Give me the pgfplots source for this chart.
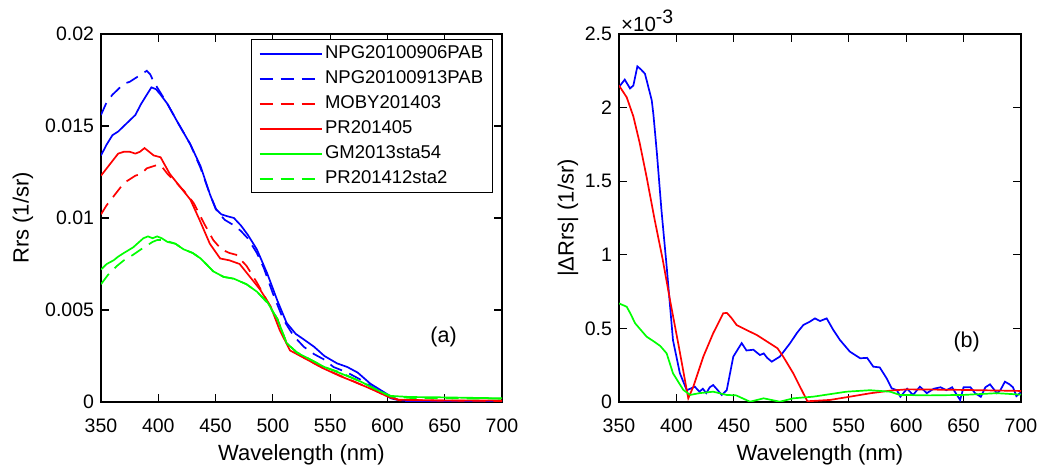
\documentclass[border=0pt]{standalone}
\usepackage{fontspec}
\setmainfont{Liberation Sans}
\usepackage{graphicx}
\usepackage{pgfplots}
\pgfplotsset{compat=1.18}
\definecolor{mblue}{rgb}{0,0,1}
\definecolor{mred}{rgb}{1,0,0}
\definecolor{mgreen}{rgb}{0,1,0}
\pgfplotsset{
  common/.style={
    scale only axis,
    width=401pt, height=368pt,
    xmin=350, xmax=700,
    xtick={350,400,...,700},
    axis line style={line width=1.1pt},
    every tick/.style={black, line width=1.1pt},
    major tick length=8pt,
    tick align=inside,
    /pgf/number format/assume math mode=true,
    tick label style={font=\fontsize{19.5}{21}\selectfont},
    xticklabel style={anchor=center, yshift=-24pt},
    yticklabel style={xshift=-3.5pt},
    xlabel={Wavelength (nm)},
    every axis x label/.style={at={(rel axis cs:0.5,0)}, anchor=center, yshift=-53pt, font=\fontsize{22}{24}\selectfont},
    every axis plot/.append style={line width=1.7pt},
    clip=true,
  },
  dashd/.style={dash pattern=on 13pt off 8pt},
}
\begin{document}
\begin{tikzpicture}
\useasboundingbox (0,0) rectangle (1050pt,470pt);
\begin{axis}[common,
  at={(101pt,68pt)}, anchor=south west,
  ymin=0, ymax=0.02,
  ytick={0,0.005,0.01,0.015,0.02},
  yticklabels={0,0.005,0.01,0.015,0.02},
  scaled y ticks=false,
  ylabel={Rrs (1/sr)},
  every axis y label/.style={at={(rel axis cs:0,0.5)}, rotate=90, anchor=center, yshift=78pt, font=\fontsize{22}{24}\selectfont},
  legend cell align=left,
  legend image code/.code={\draw[#1] (0pt,0pt) -- (62pt,0pt);},
  legend style={at={(rel axis cs:0.978,0.986)}, anchor=north east,
    draw=black, line width=1.1pt, font=\fontsize{18.5}{20}\selectfont,
    inner xsep=7pt, inner ysep=3.5pt, row sep=4pt,
    nodes={inner sep=2.5pt, text height=13pt, text depth=3pt}},
]
\addplot[mblue] coordinates {
(350,0.0134)(355,0.0140)(360,0.0145)(365,0.0147)(370,0.0150)(375,0.0153)(380,0.0156)(385,0.0162)(390,0.0167)(394,0.0171)(398,0.0170)(402,0.0167)(408,0.0162)(416,0.0153)(428,0.0140)(437,0.0128)(445,0.0113)(450,0.0105)(455,0.0102)(460,0.0101)(466,0.0100)(472,0.0096)(478,0.0091)(486,0.0083)(495,0.0070)(504,0.0055)(512,0.0043)(520,0.0037)(527,0.0034)(536,0.0030)(545,0.0025)(556,0.0021)(565,0.0019)(574,0.0016)(585,0.0010)(594,0.00065)(603,0.0003)(610,0.0001)(620,0.00005)(650,0.00003)(700,0.00002)};
\addlegendentry{NPG20100906PAB}
\addplot[mblue, dashd] coordinates {
(350,0.0156)(355,0.0163)(360,0.0167)(365,0.0170)(370,0.0173)(375,0.0174)(380,0.0176)(385,0.0178)(390,0.0180)(393,0.0178)(396,0.0174)(402,0.0168)(408,0.0162)(416,0.0153)(428,0.0140)(437,0.0127)(445,0.0113)(451,0.0104)(458,0.0099)(466,0.0096)(472,0.0093)(478,0.0089)(486,0.0081)(492,0.0073)(500,0.0059)(509,0.0045)(518,0.0036)(527,0.0030)(536,0.0026)(545,0.0023)(553,0.0019)(565,0.0016)(577,0.0012)(591,0.00065)(603,0.0002)(615,0.00002)(650,0.00001)(700,0.00001)};
\addlegendentry{NPG20100913PAB}
\addplot[mred, dashd] coordinates {
(350,0.0102)(355,0.0107)(360,0.0111)(365,0.0115)(370,0.0119)(375,0.0121)(380,0.0123)(385,0.0124)(390,0.0127)(395,0.0128)(400,0.0129)(403,0.0128)(408,0.0124)(416,0.0119)(425,0.0113)(431,0.0108)(440,0.0097)(448,0.0088)(455,0.0083)(462,0.0081)(468,0.0080)(477,0.0074)(486,0.0065)(495,0.0055)(504,0.0045)(512,0.0032)(520,0.0027)(530,0.0023)(545,0.0018)(560,0.0014)(575,0.0010)(590,0.0006)(600,0.0003)(610,0.0001)(650,0.00008)(700,0.00005)};
\addlegendentry{MOBY201403}
\addplot[mred] coordinates {
(350,0.0123)(355,0.0127)(360,0.0131)(365,0.0135)(370,0.0136)(375,0.0136)(380,0.0135)(384,0.0136)(388,0.0138)(392,0.0136)(396,0.0134)(402,0.0133)(410,0.0124)(419,0.0117)(428,0.0110)(436,0.0099)(445,0.0086)(454,0.0078)(462,0.0077)(471,0.0075)(480,0.0068)(489,0.0061)(498,0.0052)(506,0.0039)(515,0.0028)(524,0.0025)(533,0.0022)(545,0.0018)(559,0.0014)(571,0.0011)(588,0.00065)(600,0.0003)(610,0.00012)(650,0.00008)(700,0.00008)};
\addlegendentry{PR201405}
\addplot[mgreen] coordinates {
(350,0.0072)(355,0.0075)(361,0.0077)(365,0.0079)(370,0.0081)(378,0.0084)(387,0.0089)(391,0.0090)(395,0.0089)(399,0.0090)(403,0.0089)(408,0.0087)(415,0.0086)(422,0.0083)(430,0.0081)(437,0.0078)(448,0.0071)(457,0.0068)(466,0.0067)(477,0.0064)(486,0.0060)(495,0.00545)(504,0.0045)(512,0.0032)(521,0.00268)(533,0.0023)(545,0.0019)(559,0.00156)(577,0.0011)(594,0.00056)(603,0.00033)(620,0.00027)(650,0.00025)(700,0.0002)};
\addlegendentry{GM2013sta54}
\addplot[mgreen, dashd] coordinates {
(350,0.0064)(356,0.0069)(364,0.0074)(370,0.0077)(378,0.0080)(385,0.0083)(390,0.0085)(395,0.0087)(399,0.0088)(405,0.0088)(410,0.0087)(415,0.0086)(422,0.0083)(430,0.0081)(437,0.0078)(448,0.0071)(457,0.0068)(466,0.0067)(477,0.0064)(486,0.0060)(495,0.0054)(504,0.0045)(512,0.0032)(521,0.0027)(533,0.0023)(545,0.0019)(559,0.0016)(577,0.0011)(594,0.00055)(603,0.0003)(620,0.00022)(700,0.00018)};
\addlegendentry{PR201412sta2}
\node[font=\fontsize{21.5}{23}\selectfont] at (axis cs:649,0.00353) {(a)};
\end{axis}
\begin{axis}[common, name=ax2,
  at={(619pt,68pt)}, anchor=south west,
  width=402pt,
  ymin=0, ymax=2.5,
  ytick={0,0.5,1,1.5,2,2.5},
  ylabel={|ΔRrs| (1/sr)},
  every axis y label/.style={at={(rel axis cs:0,0.5)}, rotate=90, anchor=center, yshift=51pt, font=\fontsize{22}{24}\selectfont},
  title={\scalebox{2.05}{×10\raisebox{3.8pt}{\scalebox{0.95}{-3}}}},
  every axis title/.style={at={(rel axis cs:0,1)}, anchor=south west, inner sep=0pt, xshift=2pt, yshift=2.5pt},
]
\addplot[mblue] coordinates {
(350,2.14)(355,2.19)(359.6,2.13)(362.5,2.15)(366,2.28)(369,2.26)(372.6,2.23)(378.5,2.05)(380,1.95)(383,1.69)(387,1.30)(391.5,0.92)(397,0.42)(403,0.195)(409,0.08)(412,0.09)(416,0.104)(420,0.07)(423,0.09)(426,0.06)(429,0.10)(432,0.115)(436,0.08)(439.4,0.048)(443.8,0.08)(449.5,0.308)(456.8,0.40)(461,0.35)(467,0.355)(472.7,0.319)(476,0.33)(479,0.30)(483,0.274)(490,0.308)(499,0.40)(505,0.47)(510.5,0.523)(516,0.545)(520.6,0.568)(525,0.55)(530.8,0.568)(536.6,0.489)(542.4,0.421)(551,0.342)(560,0.297)(566,0.30)(571.4,0.24)(577,0.235)(583,0.161)(587.4,0.093)(592,0.08)(595,0.036)(600.8,0.09)(606,0.048)(612,0.104)(618,0.06)(624,0.09)(630,0.10)(635,0.08)(640,0.10)(644,0.05)(647,0.014)(650,0.10)(656,0.10)(660,0.06)(665,0.035)(669,0.10)(673,0.12)(679,0.06)(682,0.08)(686,0.138)(690,0.12)(693,0.10)(696,0.04)(699,0.06)(700,0.05)};
\addplot[mred] coordinates {
(350,2.15)(356.7,2.07)(362.5,1.94)(368,1.76)(374,1.53)(381,1.24)(388,0.97)(394.4,0.693)(402,0.38)(410.3,0.025)(414.7,0.104)(423.4,0.308)(432,0.467)(440.8,0.603)(444,0.605)(448,0.57)(452.4,0.523)(461,0.489)(470,0.455)(479,0.41)(488,0.365)(493,0.308)(501.7,0.195)(510.5,0.059)(514,0.005)(533.7,0.014)(551,0.036)(568.5,0.059)(586,0.077)(600.8,0.086)(650,0.082)(700,0.075)};
\addplot[mgreen] coordinates {
(350,0.67)(356.7,0.647)(360,0.60)(364,0.535)(374,0.444)(380.6,0.41)(386,0.38)(391.5,0.33)(397,0.195)(406,0.082)(412,0.048)(420,0.06)(432,0.07)(443.7,0.048)(452,0.045)(464,0.002)(476,0.025)(490,0.002)(501.7,0.025)(519,0.036)(548,0.07)(568.5,0.08)(586,0.07)(594.6,0.048)(620.6,0.045)(650,0.048)(679,0.06)(700,0.05)};
\node[font=\fontsize{21.5}{23}\selectfont] at (axis cs:652.7,0.41) {(b)};
\end{axis}
\end{tikzpicture}
\end{document}
